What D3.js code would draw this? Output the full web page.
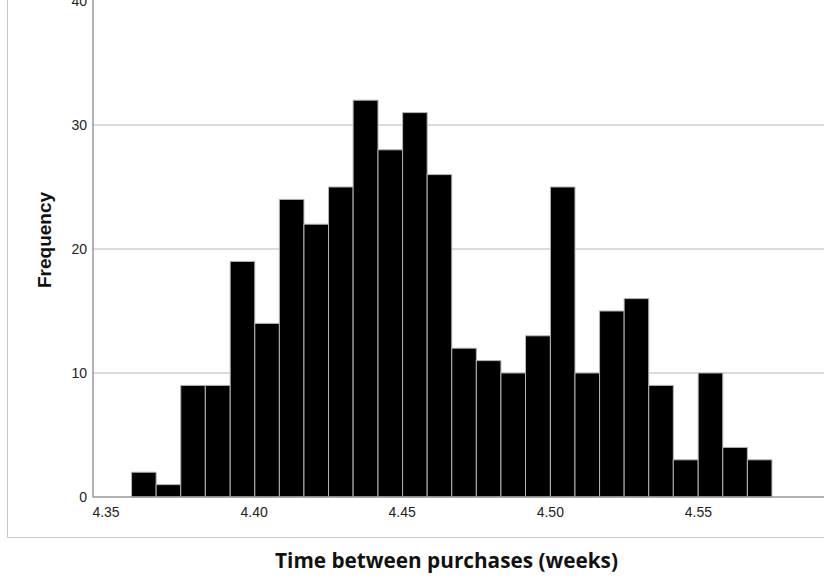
<!DOCTYPE html>
<html>
<head>
<meta charset="utf-8">
<script src="https://cdn.jsdelivr.net/npm/d3@7/dist/d3.min.js"></script>
<style>
  html, body { margin: 0; padding: 0; background: #fff; }
  svg { display: block; }
</style>
</head>
<body>
<svg id="chart" width="824" height="585"></svg>
<script>
// Histogram of time between purchases (weeks)
const binEdges = [4.3588, 4.3671, 4.3754, 4.3837, 4.3921, 4.4004, 4.4087, 4.4170, 4.4253,
                  4.4336, 4.4420, 4.4503, 4.4586, 4.4669, 4.4752, 4.4835, 4.4918, 4.5002,
                  4.5085, 4.5168, 4.5251, 4.5334, 4.5417, 4.5501, 4.5584, 4.5667, 4.5750];
const counts = [2, 1, 9, 9, 19, 14, 24, 22, 25, 32, 28, 31, 26,
                12, 11, 10, 13, 25, 10, 15, 16, 9, 3, 10, 4, 3];
const xTicks = [4.35, 4.40, 4.45, 4.50, 4.55];
const yTicks = [0, 10, 20, 30, 40];
const gridValues = [10, 20, 30];

const svg = d3.select("#chart");

const plotLeft = 93, plotRight = 824, plotBottom = 497, plotTop = 1;

const x = d3.scaleLinear().domain([4.35, 4.55]).range([105.5, 697.9]);
const y = d3.scaleLinear().domain([0, 40]).range([plotBottom, plotTop]);

// outer frame (left and bottom edges)
svg.append("line").attr("x1", 7.5).attr("x2", 7.5).attr("y1", 0).attr("y2", 537.5)
  .attr("stroke", "#c8c8c8").attr("stroke-width", 1);
svg.append("line").attr("x1", 7.5).attr("x2", 824).attr("y1", 537.5).attr("y2", 537.5)
  .attr("stroke", "#c8c8c8").attr("stroke-width", 1);

// horizontal gridlines
svg.append("g").selectAll("line").data(gridValues).join("line")
  .attr("x1", plotLeft).attr("x2", plotRight)
  .attr("y1", d => y(d)).attr("y2", d => y(d))
  .attr("stroke", "#cfcfcf").attr("stroke-width", 1.4);

// bars
const bins = counts.map((c, i) => ({ x0: binEdges[i], x1: binEdges[i + 1], count: c }));
svg.append("g").selectAll("rect").data(bins).join("rect")
  .attr("x", d => x(d.x0))
  .attr("width", d => x(d.x1) - x(d.x0))
  .attr("y", d => y(d.count))
  .attr("height", d => y(0) - y(d.count))
  .attr("fill", "#000")
  .attr("stroke", "#b4b4b4")
  .attr("stroke-width", 1);

// y axis
const yAxis = d3.axisLeft(y).tickValues(yTicks).tickSize(0).tickPadding(6).tickFormat(d3.format("d"));
const gy = svg.append("g").attr("transform", `translate(${plotLeft},0)`).call(yAxis);
gy.select(".domain").remove();
gy.selectAll("text").attr("font-family", "'Liberation Sans', Arial, sans-serif")
  .attr("font-size", 14).attr("fill", "#222").attr("x", -6);

// x axis
const xAxis = d3.axisBottom(x).tickValues(xTicks).tickSize(0).tickPadding(10).tickFormat(d3.format(".2f"));
const gx = svg.append("g").attr("transform", `translate(0,${plotBottom})`).call(xAxis);
gx.select(".domain").remove();
gx.selectAll("text").attr("font-family", "'Liberation Sans', Arial, sans-serif")
  .attr("font-size", 14).attr("fill", "#222");

// axis lines
svg.append("line").attr("x1", plotLeft).attr("x2", plotLeft).attr("y1", 0).attr("y2", plotBottom + 0.5)
  .attr("stroke", "#9a9a9a").attr("stroke-width", 1.5);
svg.append("line").attr("x1", plotLeft).attr("x2", plotRight).attr("y1", plotBottom).attr("y2", plotBottom)
  .attr("stroke", "#9a9a9a").attr("stroke-width", 1.5);

// axis titles
svg.append("text")
  .attr("transform", "translate(51,240) rotate(-90)")
  .attr("text-anchor", "middle")
  .attr("font-family", "'Liberation Sans', Arial, sans-serif")
  .attr("font-size", 19).attr("font-weight", "bold").attr("fill", "#111")
  .text("Frequency");

const xTitle = svg.append("text")
  .attr("x", 446.5).attr("y", 568)
  .attr("text-anchor", "middle")
  .attr("font-family", "'Open Sans', Lato, sans-serif")
  .attr("font-size", 19).attr("font-weight", "bold").attr("fill", "#111")
  .text("Time between purchases (weeks)");
// size the title to span the same width under the plot
const titleWidth = xTitle.node().getComputedTextLength();
xTitle.attr("font-size", 19 * 343 / titleWidth);
</script>
</body>
</html>
